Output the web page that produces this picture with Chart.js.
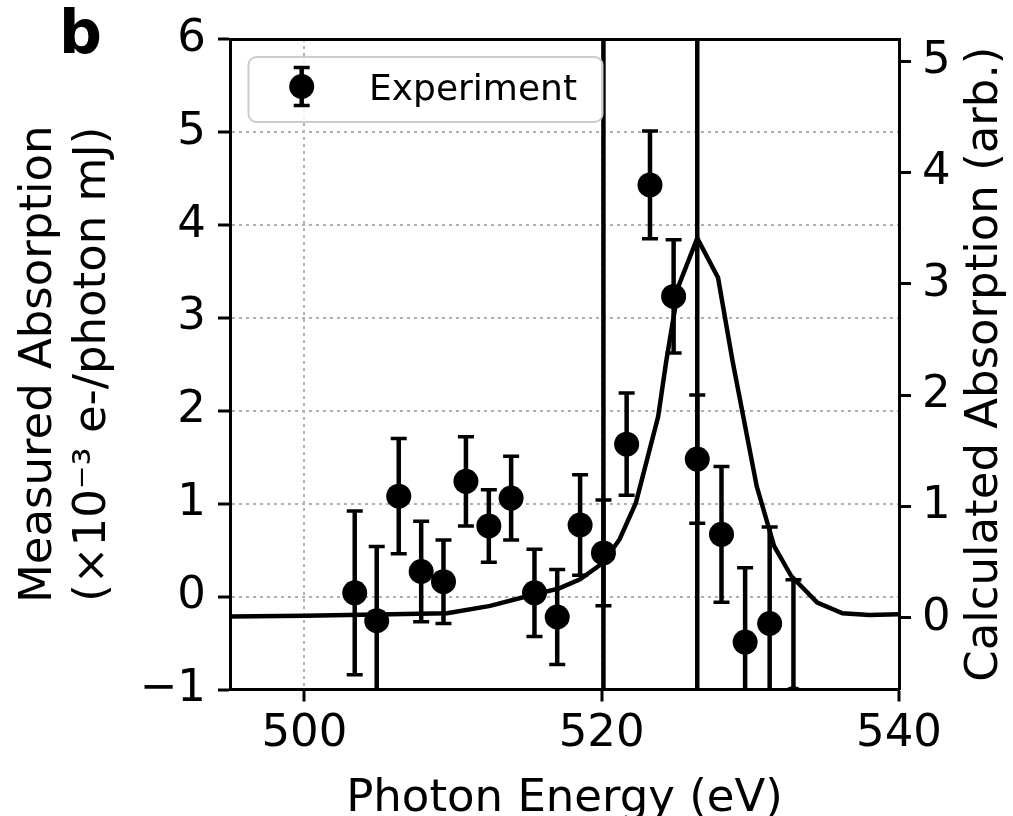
<!DOCTYPE html>
<html>
<head>
  <meta charset="utf-8">
  <script src="https://cdn.jsdelivr.net/npm/chart.js"></script>
  <style>
    html, body { margin: 0; padding: 0; background: #fff; overflow: hidden; }
    #wrap { width: 1013px; height: 816px; }
  </style>
</head>
<body>
  <div id="wrap"><canvas id="chartContainer" width="1013" height="816"></canvas></div>
  <script>
    // measured points (left axis)
    const energy = [503.39, 504.87, 506.35, 507.86, 509.36, 510.87, 512.41, 513.91, 515.48, 517.01,
                    518.55, 520.12, 521.68, 523.25, 524.84, 526.43, 528.06, 529.65, 531.3, 532.9];
    const measured = [0.04, -0.26, 1.08, 0.27, 0.16, 1.24, 0.76, 1.06, 0.04, -0.22,
                      0.77, 0.47, 1.64, 4.43, 3.23, 1.48, 0.67, -0.49, -0.29, -1.1];
    const measuredErr = [0.88, 0.80, 0.62, 0.54, 0.45, 0.48, 0.39, 0.45, 0.47, 0.51,
                         0.54, 0.57, 0.55, 0.58, 0.61, 0.69, 0.73, 0.80, 1.04, 1.28];
    // points off the plot with huge bars (only the bar shows)
    const wideEnergy = [520.12, 526.43];
    const wideValue = [-4, -4];
    const wideErr = [30, 30];

    // calculated spectrum (right axis)
    const calcEnergy = [495, 500, 504.9, 509.6, 512.5, 515.5, 517.1, 518.55, 520.1, 521.2, 522.3, 523.8,
                        524.35, 525.2, 526.43, 527.83, 528.8, 530.43, 531.6, 532.75, 534.5, 536.2, 538, 540];
    const calcValue = [0.014, 0.02, 0.031, 0.043, 0.109, 0.213, 0.264, 0.348, 0.496, 0.705, 1.033, 1.808,
                       2.31, 2.99, 3.41, 3.054, 2.31, 1.182, 0.645, 0.377, 0.139, 0.043, 0.026, 0.034];

    const xTicks = [500, 520, 540];
    const yTicks = [-1, 0, 1, 2, 3, 4, 5, 6];
    const y2Ticks = [0, 1, 2, 3, 4, 5];

    const FONT = 'DejaVu Sans';
    const gridGray = '#b0b0b0';

    const toPts = (xs, ys) => xs.map((x, i) => ({x: x, y: ys[i]}));
    const setTicks = list => scale => { scale.ticks = list.map(v => ({value: v})); };
    const minus = v => String(v).replace('-', '\u2212');

    const errorBars = {
      id: 'errorBars',
      beforeDatasetsDraw(chart) {
        const ctx = chart.ctx, a = chart.chartArea;
        const xs = chart.scales.x, ys = chart.scales.y;
        ctx.save();
        ctx.beginPath();
        ctx.rect(a.left, a.top, a.right - a.left, a.bottom - a.top);
        ctx.clip();
        ctx.strokeStyle = '#000';
        chart.data.datasets.forEach(ds => {
          if (!ds.yErr) return;
          ds.data.forEach((p, i) => {
            const x = xs.getPixelForValue(p.x);
            const top = ys.getPixelForValue(p.y + ds.yErr[i]);
            const bot = ys.getPixelForValue(p.y - ds.yErr[i]);
            ctx.lineWidth = 4.5;
            ctx.beginPath(); ctx.moveTo(x, bot); ctx.lineTo(x, top); ctx.stroke();
            ctx.lineWidth = 3.5;
            ctx.beginPath();
            ctx.moveTo(x - 8, bot); ctx.lineTo(x + 8, bot);
            ctx.moveTo(x - 8, top); ctx.lineTo(x + 8, top);
            ctx.stroke();
          });
        });
        ctx.restore();
      }
    };

    const extras = {
      id: 'extras',
      afterDraw(chart) {
        const ctx = chart.ctx;
        ctx.save();
        // panel letter
        ctx.fillStyle = '#000';
        ctx.font = 'bold 60px "' + FONT + '"';
        ctx.textBaseline = 'alphabetic';
        ctx.textAlign = 'left';
        ctx.fillText('b', 59, 53);

        // right axis title, reading bottom to top
        ctx.save();
        ctx.translate(985, (chart.chartArea.top + chart.chartArea.bottom) / 2);
        ctx.rotate(-Math.PI / 2);
        ctx.font = '45px "' + FONT + '"';
        ctx.textAlign = 'center';
        ctx.textBaseline = 'middle';
        ctx.fillText('Calculated Absorption (arb.)', 0, 0);
        ctx.restore();

        // legend
        ctx.beginPath();
        ctx.roundRect(248.5, 57, 354, 65, 8);
        ctx.fillStyle = 'rgba(255,255,255,0.8)';
        ctx.fill();
        ctx.lineWidth = 2;
        ctx.strokeStyle = '#cccccc';
        ctx.stroke();
        const mx = 301.7, my = 86.5;
        ctx.strokeStyle = '#000';
        ctx.lineWidth = 4.5;
        ctx.beginPath(); ctx.moveTo(mx, my - 19); ctx.lineTo(mx, my + 19); ctx.stroke();
        ctx.lineWidth = 3.5;
        ctx.beginPath();
        ctx.moveTo(mx - 8, my - 19); ctx.lineTo(mx + 8, my - 19);
        ctx.moveTo(mx - 8, my + 19); ctx.lineTo(mx + 8, my + 19);
        ctx.stroke();
        ctx.beginPath(); ctx.arc(mx, my, 12.5, 0, Math.PI * 2); ctx.fillStyle = '#000'; ctx.fill();
        ctx.font = '36px "' + FONT + '"';
        ctx.textBaseline = 'alphabetic';
        ctx.fillText('Experiment', 369, 99.5);
        ctx.restore();
      }
    };

    const ctx = document.getElementById('chartContainer').getContext('2d');
    const myChart = new Chart(ctx, {
      type: 'scatter',
      data: {
        datasets: [
          {
            label: 'Experiment',
            data: toPts(energy, measured),
            yErr: measuredErr,
            xAxisID: 'x', yAxisID: 'y',
            pointRadius: 12.5,
            pointBackgroundColor: '#000',
            pointBorderColor: '#000',
            pointBorderWidth: 0
          },
          {
            label: 'wide',
            data: toPts(wideEnergy, wideValue),
            yErr: wideErr,
            xAxisID: 'x', yAxisID: 'y',
            pointRadius: 0
          },
          {
            label: 'Calculated',
            type: 'line',
            data: toPts(calcEnergy, calcValue),
            xAxisID: 'x', yAxisID: 'y2',
            borderColor: '#000',
            borderWidth: 4.5,
            pointRadius: 0,
            tension: 0,
            fill: false
          }
        ]
      },
      options: {
        responsive: false,
        animation: false,
        events: [],
        layout: { padding: 0 },
        plugins: { legend: { display: false }, tooltip: { enabled: false } },
        scales: {
          x: {
            type: 'linear', position: 'bottom', min: 495, max: 540,
            afterBuildTicks: setTicks(xTicks),
            afterFit: s => { s.height = 126.5; },
            grid: { color: gridGray, lineWidth: 2, drawTicks: true, tickLength: 12, tickWidth: 3, tickColor: '#000' },
            border: { color: '#000', width: 3, dash: [3, 4] },
            ticks: { color: '#000', font: { family: FONT, size: 45 }, padding: 6, maxRotation: 0 },
            title: { display: true, text: 'Photon Energy (eV)', color: '#000',
                     font: { family: FONT, size: 45, lineHeight: 1 }, padding: { top: 0, bottom: -6 } }
          },
          x2: {
            type: 'linear', position: 'top', min: 495, max: 540,
            afterBuildTicks: s => { s.ticks = []; },
            afterFit: s => { s.height = 37; },
            grid: { display: false, drawTicks: false },
            border: { color: '#000', width: 3 },
            ticks: { display: false }
          },
          y: {
            type: 'linear', position: 'left', min: -1, max: 6,
            afterBuildTicks: setTicks(yTicks),
            afterFit: s => { s.width = 230; },
            grid: { color: gridGray, lineWidth: 2, drawTicks: true, tickLength: 12, tickWidth: 3, tickColor: '#000' },
            border: { color: '#000', width: 3, dash: [3, 4] },
            ticks: { color: '#000', font: { family: FONT, size: 45 }, padding: 12, callback: minus },
            title: { display: true, text: ['Measured Absorption', '(\u00d710\u207b\u00b3 e-/photon mJ)'], color: '#000',
                     font: { family: FONT, size: 45, lineHeight: 1.2 }, padding: { top: 12, bottom: 0 } }
          },
          y2: {
            type: 'linear', position: 'right', min: -0.642, max: 5.198,
            afterBuildTicks: setTicks(y2Ticks),
            afterFit: s => { s.width = 114; },
            grid: { drawOnChartArea: false, drawTicks: true, tickLength: 12, tickWidth: 3, tickColor: '#000' },
            border: { color: '#000', width: 3 },
            ticks: { color: '#000', font: { family: FONT, size: 45 }, padding: 11, callback: minus }
          }
        }
      },
      plugins: [errorBars, extras]
    });
  </script>
</body>
</html>
